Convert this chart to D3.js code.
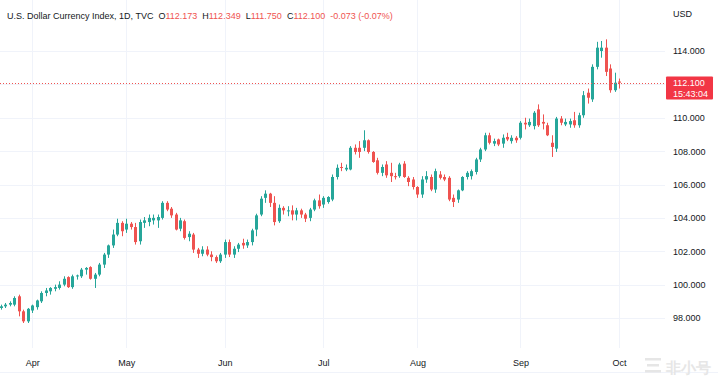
<!DOCTYPE html>
<html>
<head>
<meta charset="utf-8">
<script src="https://cdn.jsdelivr.net/npm/d3@7"></script>
<style>
body { margin: 0; background: #fff; }
svg text { font-family: "Liberation Sans", Arial, sans-serif; }
</style>
</head>
<body>
<div id="chart"></div>
<script>
// DXY daily candles, 23 Mar - 3 Oct 2022 (one line per month)
var opens = [
	98.6, 98.7, 98.8, 98.8, 99.3, 98.4, 97.8,
	98.45, 98.65, 99.0, 99.5, 99.6, 99.75, 99.8, 100.0, 100.45, 99.85, 100.5, 100.5, 100.9, 101.05, 100.35, 100.6, 101.2, 101.8, 102.35, 103.0, 103.7,
	103.3, 103.65, 103.45, 102.6, 103.7, 103.75, 103.85, 103.85, 104.0, 104.9, 104.55, 104.2, 103.35, 103.8, 102.85, 103.0, 102.1, 101.85, 102.1, 101.8, 101.65, 101.4,
	101.8, 102.55, 101.8, 102.15, 102.5, 102.35, 102.55, 103.3, 104.2, 105.2, 105.45, 104.9, 103.8, 104.6, 104.45, 104.45, 104.2, 104.45, 104.2, 104.0, 104.5, 105.05,
	104.8, 104.95, 105.1, 106.45, 107.05, 106.9, 106.9, 108.2, 108.2, 108.2, 108.65, 107.95, 107.45, 106.7, 107.2, 106.7, 106.5, 106.5, 107.25, 106.4, 106.3,
	105.85, 105.4, 106.3, 106.45, 105.7, 106.6, 106.45, 106.4, 105.2, 105.1, 105.65, 106.45, 106.5, 106.75, 107.5, 108.1, 108.95, 108.45, 108.7, 108.45, 108.85, 108.6, 108.8,
	108.8, 109.7, 109.55, 109.5, 110.5, 109.75, 109.55, 108.5, 108.15, 109.95, 109.6, 109.6, 109.85, 109.55, 110.15, 111.5, 111.1, 113.05, 114.0, 114.2, 112.95, 111.65,
	112.173
];
var highs = [
	98.8, 98.9, 99.0, 99.3, 99.4, 98.5, 98.6,
	98.8, 99.1, 99.6, 99.8, 99.85, 100.0, 100.2, 100.5, 100.5, 100.6, 100.6, 101.0, 101.05, 101.1, 100.7, 101.3, 101.9, 102.4, 103.3, 103.95, 103.8,
	103.95, 103.75, 103.7, 103.9, 104.05, 104.2, 104.2, 104.2, 105.0, 105.0, 104.65, 104.3, 104.0, 103.9, 103.2, 103.1, 102.2, 102.3, 102.3, 102.0, 101.75, 101.9,
	102.7, 102.7, 102.3, 102.5, 102.75, 102.7, 103.35, 104.25, 105.3, 105.65, 105.5, 105.3, 104.8, 104.7, 104.7, 104.75, 104.6, 104.55, 104.3, 104.6, 105.15, 105.4,
	105.3, 105.3, 106.6, 107.2, 107.3, 107.2, 108.3, 108.4, 108.6, 109.25, 108.7, 108.0, 107.6, 107.2, 107.4, 107.3, 106.7, 107.3, 107.4, 106.5, 106.45,
	105.9, 106.5, 106.8, 106.6, 106.95, 106.8, 106.6, 106.5, 105.4, 105.7, 106.5, 106.8, 106.9, 107.6, 108.2, 109.1, 109.1, 108.75, 108.75, 109.0, 109.1, 108.95, 108.9,
	109.8, 110.0, 109.95, 110.4, 110.8, 110.2, 109.7, 108.95, 110.05, 110.1, 109.95, 109.95, 110.35, 110.3, 111.6, 111.75, 113.2, 114.55, 114.6, 114.7, 113.2, 112.7,
	112.349
];
var lows = [
	98.5, 98.6, 98.7, 98.7, 98.1, 97.7, 97.7,
	98.3, 98.5, 98.9, 99.3, 99.4, 99.6, 99.7, 99.9, 99.8, 99.75, 100.3, 100.4, 100.6, 100.3, 99.8, 100.5, 101.0, 101.6, 102.2, 102.9, 102.9,
	103.1, 103.3, 102.4, 102.4, 103.4, 103.5, 103.6, 103.4, 103.9, 104.4, 104.0, 103.25, 103.2, 102.7, 102.6, 101.9, 101.6, 101.7, 101.7, 101.4, 101.3, 101.3,
	101.6, 101.65, 101.6, 101.95, 102.15, 102.2, 102.35, 102.9, 104.1, 104.9, 104.65, 103.55, 103.7, 104.2, 104.1, 103.85, 103.85, 104.0, 103.75, 103.8, 104.4, 104.55,
	104.6, 104.85, 105.0, 106.3, 106.8, 106.8, 106.85, 107.8, 107.6, 108.0, 107.85, 107.3, 106.6, 106.5, 106.4, 106.15, 106.3, 106.4, 106.4, 105.9, 105.7,
	105.2, 105.2, 106.1, 105.6, 105.5, 106.3, 106.2, 105.0, 104.65, 104.9, 105.6, 106.3, 106.3, 106.6, 107.35, 108.0, 108.4, 108.3, 108.3, 108.2, 108.6, 108.45, 108.5,
	108.7, 109.3, 109.45, 109.3, 109.45, 109.3, 108.9, 107.65, 107.95, 109.55, 109.5, 109.4, 109.4, 109.4, 110.0, 110.85, 110.95, 112.9, 113.6, 112.5, 111.5, 111.55,
	111.75
];
var closes = [
	98.7, 98.8, 98.9, 99.2, 98.4, 97.8, 98.55,
	98.75, 99.05, 99.5, 99.65, 99.8, 99.85, 100.0, 100.35, 99.85, 100.5, 100.55, 100.9, 101.0, 100.35, 100.6, 101.2, 101.8, 102.35, 103.0, 103.7, 103.2,
	103.65, 103.45, 102.55, 103.75, 103.85, 104.0, 104.0, 104.05, 104.9, 104.5, 104.15, 103.3, 103.85, 102.8, 103.05, 102.1, 101.85, 102.1, 101.8, 101.65, 101.4, 101.8,
	102.55, 101.8, 102.15, 102.4, 102.35, 102.55, 103.25, 104.15, 105.15, 105.45, 104.9, 103.75, 104.6, 104.45, 104.45, 104.2, 104.45, 104.2, 103.95, 104.5, 105.05, 104.7,
	105.2, 105.25, 106.45, 107.0, 107.0, 107.0, 108.2, 107.95, 107.95, 108.65, 107.95, 107.35, 106.7, 107.05, 106.55, 106.5, 106.45, 107.2, 106.45, 106.15, 105.85,
	105.4, 106.3, 106.5, 105.7, 106.8, 106.4, 106.3, 105.1, 104.95, 105.65, 106.45, 106.7, 106.8, 107.5, 108.1, 108.95, 108.5, 108.6, 108.4, 108.8, 108.7, 108.8, 108.65,
	109.7, 109.6, 109.75, 110.3, 109.55, 109.65, 108.95, 108.25, 109.95, 109.7, 109.75, 109.8, 109.55, 110.15, 111.35, 111.2, 113.05, 114.2, 114.2, 112.75, 111.65, 112.1,
	112.1
];
var priceTicks = [98, 100, 102, 104, 106, 108, 110, 112, 114];
var monthLabels = ["Apr", "May", "Jun", "Jul", "Aug", "Sep", "Oct"];
var title = "U.S. Dollar Currency Index, 1D, TVC";
var change = "-0.073 (-0.07%)";
var countdown = "15:43:04";

function candleChart() {
	var width = 718;
	var height = 379;
	var plotRight = 665;
	var plotBottom = 348;
	var up = "#26a69a", down = "#ef5350";
	var fs = 9;

	// trading days (weekdays) from first to last bar
	var days = d3.utcDay.range(new Date(Date.UTC(2022, 2, 23)), new Date(Date.UTC(2022, 9, 4)))
		.filter(function(d) { return d.getUTCDay() % 6 !== 0; });
	var n = days.length;
	var last = n - 1;

	var monthStarts = [];
	days.forEach(function(d, i) {
		if (i > 0 && d.getUTCMonth() !== days[i - 1].getUTCMonth()) monthStarts.push(i);
	});

	var x = d3.scaleLinear().domain([0, n - 1]).range([0.8, 619]);
	var y = d3.scaleLinear().domain([98, 114]).range([318, 51]);
	var py = Math.round(y(closes[last])) + 0.5;

	var svg = d3.select("#chart").append("svg")
		.attr("width", width)
		.attr("height", height);

	//grid
	svg.append("g").selectAll("line").data(priceTicks).enter().append("line")
		.attr("x1", 0).attr("x2", plotRight)
		.attr("y1", function(d) { return Math.round(y(d)) + 0.5; })
		.attr("y2", function(d) { return Math.round(y(d)) + 0.5; })
		.attr("stroke", "#f0f3fa");
	svg.append("g").selectAll("line").data(monthStarts).enter().append("line")
		.attr("x1", function(d) { return Math.round(x(d)) + 0.5; })
		.attr("x2", function(d) { return Math.round(x(d)) + 0.5; })
		.attr("y1", 0).attr("y2", plotBottom)
		.attr("stroke", "#f0f3fa");
	svg.append("line")
		.attr("x1", 0).attr("x2", width).attr("y1", 372.5).attr("y2", 372.5)
		.attr("stroke", "#f0f3fa");

	//axes (the tick hidden under the price label is not written)
	var shown = priceTicks.filter(function(d) { return Math.abs(y(d) - py) > 12; });
	var yAxis = svg.append("g")
		.attr("transform", "translate(" + plotRight + ",0)")
		.call(d3.axisRight(y).tickValues(shown).tickFormat(d3.format(".3f")).tickSize(0).tickPadding(8));
	yAxis.select(".domain").remove();
	yAxis.selectAll("text").attr("font-size", fs).attr("fill", "#131722").attr("font-family", null);

	var xAxis = svg.append("g")
		.attr("transform", "translate(0," + 360 + ")")
		.call(d3.axisBottom(x).tickValues(monthStarts)
			.tickFormat(function(d, i) { return monthLabels[i]; }).tickSize(0).tickPadding(0));
	xAxis.select(".domain").remove();
	xAxis.selectAll("text").attr("font-size", fs).attr("fill", "#131722").attr("font-family", null);

	//candles
	var bars = svg.append("g").selectAll("g").data(d3.range(n)).enter().append("g");
	bars.append("line")
		.attr("x1", function(i) { return Math.round(x(i)) + 0.5; })
		.attr("x2", function(i) { return Math.round(x(i)) + 0.5; })
		.attr("y1", function(i) { return y(highs[i]); })
		.attr("y2", function(i) { return y(lows[i]); })
		.attr("stroke", function(i) { return closes[i] >= opens[i] ? up : down; });
	bars.append("rect")
		.attr("x", function(i) { return Math.round(x(i)) - 1; })
		.attr("width", 3)
		.attr("y", function(i) { return y(Math.max(opens[i], closes[i])); })
		.attr("height", function(i) { return Math.max(1, Math.abs(y(opens[i]) - y(closes[i]))); })
		.attr("fill", function(i) { return closes[i] >= opens[i] ? up : down; });

	//last price line and label
	svg.append("line")
		.attr("x1", 0).attr("x2", plotRight).attr("y1", py).attr("y2", py)
		.attr("stroke", down).attr("stroke-dasharray", "1,2");
	svg.append("rect")
		.attr("x", 666).attr("y", py - 7).attr("width", 47).attr("height", 23).attr("rx", 1)
		.attr("fill", "#f23645");
	svg.append("text").attr("x", 673).attr("y", py + 2.5).attr("font-size", fs).attr("fill", "#fff")
		.text(d3.format(".3f")(closes[last]));
	svg.append("text").attr("x", 673).attr("y", py + 13.5).attr("font-size", fs).attr("fill", "#fff")
		.text(countdown);

	svg.append("text").attr("x", 673).attr("y", 17).attr("font-size", fs).attr("fill", "#131722").text("USD");

	//legend line
	var f = d3.format(".3f");
	var head = svg.append("text").attr("x", 7).attr("y", 18.5).attr("font-size", fs).attr("fill", "#131722");
	head.append("tspan").text(title);
	var parts = [["O", opens[last]], ["H", highs[last]], ["L", lows[last]], ["C", closes[last]]];
	parts.forEach(function(p) {
		head.append("tspan").attr("dx", 5).attr("fill", "#131722").text(p[0]);
		head.append("tspan").attr("fill", down).text(f(p[1]));
	});
	head.append("tspan").attr("dx", 5).attr("fill", down).text(change);

	//watermark
	var wm = svg.append("g").attr("fill", "#e6e6e6");
	wm.append("text").attr("x", 666).attr("y", 373).attr("font-size", 15)
		.attr("font-family", "Noto Sans CJK SC").attr("font-weight", "bold").text("非小号");
	wm.append("rect").attr("x", 645).attr("y", 358).attr("width", 16).attr("height", 2.5);
	wm.append("rect").attr("x", 647).attr("y", 364).attr("width", 12).attr("height", 2.5);
	wm.append("rect").attr("x", 645).attr("y", 370).attr("width", 16).attr("height", 2.5);
}

candleChart();
</script>
</body>
</html>
